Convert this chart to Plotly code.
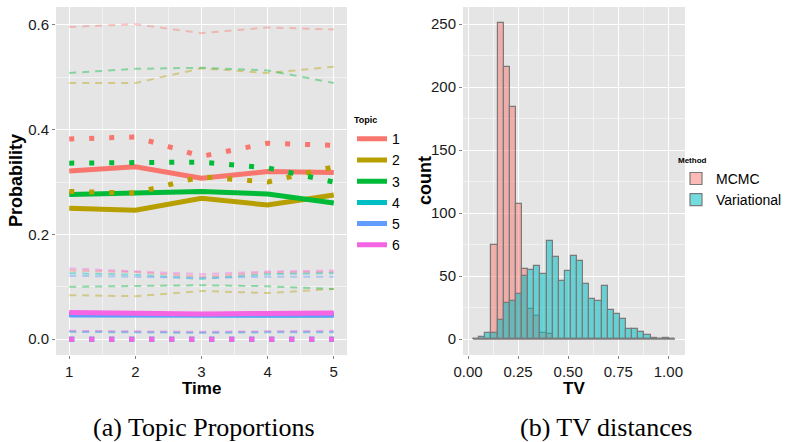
import plotly.graph_objects as go

W, H = 785, 442

# ---------------- data: topic proportions ----------------
times = [1, 2, 3, 4, 5]
topics = ["1", "2", "3", "4", "5", "6"]

est_solid = {
    "1": [0.321, 0.329, 0.307, 0.320, 0.318],
    "2": [0.250, 0.246, 0.269, 0.256, 0.275],
    "3": [0.276, 0.280, 0.282, 0.277, 0.260],
    "4": [0.047, 0.046, 0.045, 0.046, 0.046],
    "5": [0.046, 0.046, 0.045, 0.046, 0.046],
    "6": [0.051, 0.049, 0.048, 0.049, 0.050],
}
est_dotted = {
    "1": [0.382, 0.386, 0.349, 0.374, 0.370],
    "2": [0.282, 0.279, 0.310, 0.300, 0.329],
    "3": [0.336, 0.338, 0.338, 0.327, 0.300],
    "4": [0.0, 0.0, 0.0, 0.0, 0.0],
    "5": [0.0, 0.0, 0.0, 0.0, 0.0],
    "6": [0.0, 0.0, 0.0, 0.0, 0.0],
}
upper_dashed = {
    "1": [0.596, 0.601, 0.584, 0.595, 0.591],
    "2": [0.489, 0.489, 0.517, 0.508, 0.520],
    "3": [0.508, 0.516, 0.518, 0.513, 0.489],
    "4": [0.126, 0.123, 0.115, 0.124, 0.126],
    "5": [0.121, 0.119, 0.117, 0.119, 0.119],
    "6": [0.135, 0.130, 0.124, 0.129, 0.131],
}
lower_dashed = {
    "1": [0.131, 0.128, 0.119, 0.127, 0.128],
    "2": [0.084, 0.082, 0.092, 0.088, 0.096],
    "3": [0.100, 0.101, 0.103, 0.101, 0.096],
    "4": [0.014, 0.013, 0.012, 0.013, 0.013],
    "5": [0.015, 0.014, 0.013, 0.014, 0.014],
    "6": [0.016, 0.015, 0.014, 0.015, 0.016],
}

# ---------------- data: TV distance histogram ----------------
tv_bin_width = 0.03055
tv_bin_centers = [0.0405, 0.0711, 0.1016, 0.1322, 0.1627, 0.1933, 0.2238, 0.2544,
                  0.2849, 0.3155, 0.3460, 0.3766, 0.4071, 0.4377, 0.4682, 0.4988,
                  0.5293, 0.5599, 0.5904, 0.6210, 0.6515, 0.6821, 0.7126, 0.7432,
                  0.7737, 0.8043, 0.8348, 0.8654, 0.8959, 0.9265, 0.9570, 0.9876,
                  1.0181]
mcmc_counts = [0, 0, 0, 75, 251, 216, 184, 107, 56, 24, 18, 5, 4, 0, 0, 0, 0,
               0, 0, 0, 0, 0, 0, 0, 0, 0, 0, 0, 0, 0, 0, 0, 0]
var_counts = [0, 2, 5, 5, 15, 29, 30, 36, 50, 55, 58, 52, 78, 65, 46, 54, 66,
              62, 44, 32, 30, 42, 23, 20, 16, 8, 8, 6, 3, 1, 0, 1, 0]

time_ticks = [1, 2, 3, 4, 5]
tv_ticks = [0.0, 0.25, 0.5, 0.75, 1.0]
tv_tick_labels = ["0.00", "0.25", "0.50", "0.75", "1.00"]

# ---------------- styles ----------------
topic_colors = {"1": "#F8766D", "2": "#B79F00", "3": "#00BA38",
                "4": "#00BFC4", "5": "#619CFF", "6": "#F564E3"}
SANS = "Liberation Sans, Arial, sans-serif"
SERIF = "Liberation Serif, Times New Roman, serif"

def px_x(p):
    return p / W

def px_y(p):
    return 1 - p / H

fig = go.Figure()

# dashed interval lines
for t in topics:
    for series in (upper_dashed, lower_dashed):
        fig.add_trace(go.Scatter(
            x=times, y=series[t], mode="lines", xaxis="x", yaxis="y",
            line=dict(color=topic_colors[t], width=2, dash="7px,6px"),
            opacity=0.4, showlegend=False, hoverinfo="skip"))

# solid thick lines (with legend)
for t in topics:
    fig.add_trace(go.Scatter(
        x=times, y=est_solid[t], mode="lines", xaxis="x", yaxis="y",
        line=dict(color=topic_colors[t], width=5),
        name=t, legend="legend", showlegend=True))

# dotted thick lines
for t in topics:
    fig.add_trace(go.Scatter(
        x=times, y=est_dotted[t], mode="lines", xaxis="x", yaxis="y",
        line=dict(color=topic_colors[t], width=5, dash="5px,15px"),
        showlegend=False, hoverinfo="skip"))

# histogram
fig.add_trace(go.Bar(
    x=tv_bin_centers, y=mcmc_counts, width=tv_bin_width, xaxis="x2", yaxis="y2",
    marker=dict(color="rgba(248,118,109,0.5)", line=dict(color="#7a7a7a", width=1.2)),
    name="MCMC", legend="legend2"))
fig.add_trace(go.Bar(
    x=tv_bin_centers, y=var_counts, width=tv_bin_width, xaxis="x2", yaxis="y2",
    marker=dict(color="rgba(0,191,196,0.55)", line=dict(color="#7a7a7a", width=1.2)),
    name="Variational", legend="legend2"))
fig.add_trace(go.Scatter(
    x=[tv_bin_centers[0] - tv_bin_width / 2, tv_bin_centers[-1] + tv_bin_width / 2],
    y=[0, 0], mode="lines", xaxis="x2", yaxis="y2",
    line=dict(color="#7a7a7a", width=1.2), showlegend=False, hoverinfo="skip"))

axis_common = dict(
    showline=False, zeroline=False, ticks="outside", ticklen=3, tickwidth=1,
    tickcolor="#7f7f7f", gridcolor="white", gridwidth=1.2, automargin=False,
    tickfont=dict(family=SANS, size=15, color="#1a1a1a"),
)

fig.update_layout(
    width=W, height=H, margin=dict(l=0, r=0, t=0, b=0, autoexpand=False),
    paper_bgcolor="white", plot_bgcolor="#E5E5E5",
    barmode="overlay", bargap=0,
    xaxis=dict(domain=[px_x(56), px_x(347)], range=[0.8, 5.2], anchor="y",
               tickmode="array", tickvals=time_ticks,
               minor=dict(dtick=0.5, tick0=0.5, showgrid=True, gridcolor="#F2F2F2",
                          gridwidth=0.8, ticks=""),
               **axis_common),
    yaxis=dict(domain=[px_y(355), px_y(7)], range=[-0.0302, 0.634], anchor="x",
               tickmode="linear", tick0=0, dtick=0.2, tickformat=".1f",
               minor=dict(dtick=0.1, tick0=0, showgrid=True, gridcolor="#F2F2F2",
                          gridwidth=0.8, ticks=""),
               **axis_common),
    xaxis2=dict(domain=[px_x(463), px_x(685)], range=[-0.025, 1.083], anchor="y2",
                tickmode="array", tickvals=tv_ticks, ticktext=tv_tick_labels,
                minor=dict(tickmode="array", tickvals=[0.125, 0.375, 0.625, 0.875],
                           showgrid=True, gridcolor="#F2F2F2", gridwidth=0.8, ticks=""),
                **axis_common),
    yaxis2=dict(domain=[px_y(355), px_y(7)], range=[-12.55, 263.55], anchor="x2",
                tickmode="linear", tick0=0, dtick=50,
                minor=dict(dtick=25, tick0=0, showgrid=True, gridcolor="#F2F2F2",
                           gridwidth=0.8, ticks=""),
                **axis_common),
    legend=dict(x=px_x(352), y=px_y(186), xanchor="left", yanchor="middle",
                bgcolor="rgba(0,0,0,0)", itemwidth=30, tracegroupgap=0,
                font=dict(family=SANS, size=14, color="black"),
                title=dict(text="<b>Topic</b>", font=dict(family=SANS, size=9, color="black"))),
    legend2=dict(x=px_x(676), y=px_y(184), xanchor="left", yanchor="middle",
                 bgcolor="rgba(0,0,0,0)", itemwidth=30, tracegroupgap=0,
                 font=dict(family=SANS, size=14, color="black"),
                 title=dict(text="<b>Method</b>", font=dict(family=SANS, size=8, color="black"))),
    showlegend=True,
)

annotations = [
    dict(text="<b>Probability</b>", x=px_x(16), y=px_y(181), textangle=-90,
         font=dict(family=SANS, size=18, color="black")),
    dict(text="<b>Time</b>", x=px_x(201.5), y=px_y(388.5),
         font=dict(family=SANS, size=17, color="black")),
    dict(text="<b>count</b>", x=px_x(425), y=px_y(181), textangle=-90,
         font=dict(family=SANS, size=18, color="black")),
    dict(text="<b>TV</b>", x=px_x(574), y=px_y(388.5),
         font=dict(family=SANS, size=17, color="black")),
    dict(text="(a) Topic Proportions", x=px_x(204), y=px_y(427),
         font=dict(family=SERIF, size=26, color="black")),
    dict(text="(b) TV distances", x=px_x(606), y=px_y(427),
         font=dict(family=SERIF, size=26, color="black")),
]
for a in annotations:
    a.update(xref="paper", yref="paper", showarrow=False, xanchor="center", yanchor="middle")
fig.update_layout(annotations=annotations)

fig.write_html("out.html", config={"displayModeBar": False},
               post_script="document.body.style.margin='0';document.body.style.padding='0';")
